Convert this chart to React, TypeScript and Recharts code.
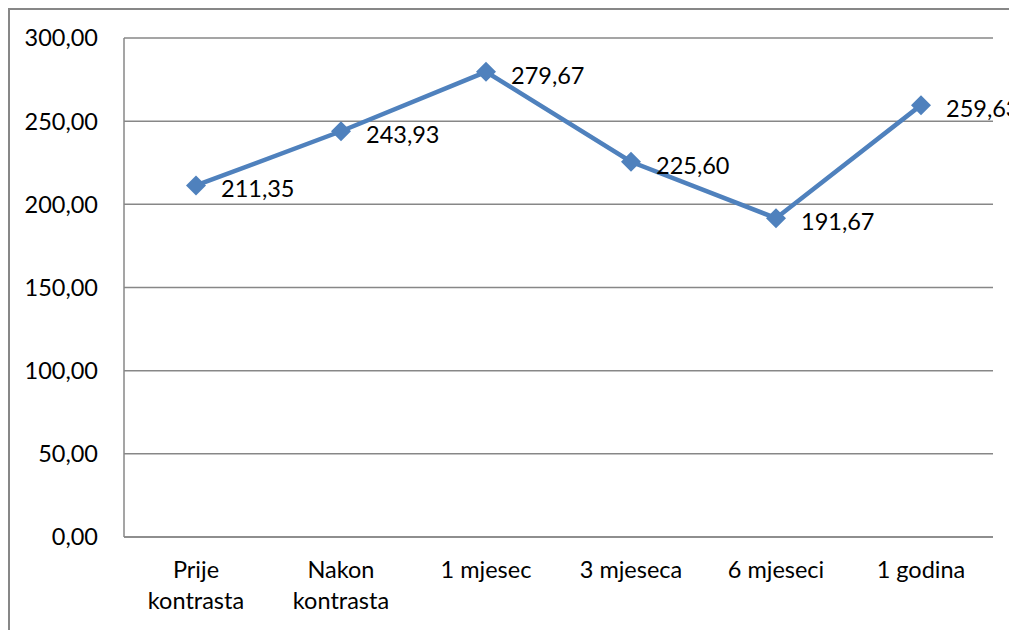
import { LineChart, Line, XAxis, YAxis, CartesianGrid, LabelList } from 'recharts';

const categories = ["Prije kontrasta", "Nakon kontrasta", "1 mjesec", "3 mjeseca", "6 mjeseci", "1 godina"]
const values = [211.35, 243.93, 279.67, 225.60, 191.67, 259.63]
const yTicks = [0, 50, 100, 150, 200, 250, 300]

const data = categories.map((name, i) => ({ name, value: values[i] }))

const FONT = "Lato, 'Open Sans', sans-serif"
const GRID = "#878787"
const BLUE = "#4F81BD"

const fmt = (v: number) => v.toFixed(2).replace('.', ',')

function Diamond({ cx, cy }: any) {
  if (cx == null || cy == null) return null
  const r = 10
  return (
    <path
      d={`M${cx},${cy - r} L${cx + r},${cy} L${cx},${cy + r} L${cx - r},${cy} Z`}
      fill={BLUE}
    />
  )
}

function CategoryTick({ x, y, payload }: any) {
  const words = String(payload.value).split(' ')
  // two-word labels longer than the band are wrapped like the original
  const lines = payload.value.length > 10 ? words : [payload.value]
  return (
    <text x={x} y={y} textAnchor="middle" fontFamily={FONT} fontSize={23.5} fill="#000">
      {lines.map((l: string, i: number) => (
        <tspan key={i} x={x} dy={i === 0 ? 33 : 31}>{l}</tspan>
      ))}
    </text>
  )
}

function ValueLabel({ x, y, value }: any) {
  return (
    <text x={x + 25} y={y + 3} dominantBaseline="central" fontFamily={FONT} fontSize={23.5} fill="#000">
      {fmt(Number(value))}
    </text>
  )
}

export default function App() {
  return (
    <div style={{ position: 'fixed', left: 0, top: 0, width: 1009, height: 630, overflow: 'hidden', background: '#fff' }}>
      <div style={{
        position: 'absolute', left: 8, top: 8,
        width: 1001, height: 622, boxSizing: 'border-box',
        borderLeft: `2px solid ${GRID}`, borderTop: `2px solid ${GRID}`,
        overflow: 'hidden'
      }}>
        <LineChart width={999} height={620} data={data} margin={{ top: 28, right: 16, left: 0, bottom: 0 }}>
          <CartesianGrid vertical={false} stroke={GRID} strokeWidth={1.5} />
          <XAxis
            dataKey="name"
            padding={{ left: 72, right: 72 }}
            height={93}
            axisLine={{ stroke: GRID, strokeWidth: 1.5 }}
            tickLine={false}
            interval={0}
            tick={<CategoryTick />}
          />
          <YAxis
            domain={[0, 300]}
            ticks={yTicks}
            width={114}
            axisLine={{ stroke: GRID, strokeWidth: 1.5 }}
            tickLine={false}
            tickMargin={20}
            tickFormatter={fmt}
            tick={{ fontFamily: FONT, fontSize: 23.5, fill: '#000' }}
          />
          <Line
            dataKey="value"
            stroke={BLUE}
            strokeWidth={4.5}
            dot={<Diamond />}
            activeDot={false}
            isAnimationActive={false}
          >
            <LabelList dataKey="value" content={<ValueLabel />} />
          </Line>
        </LineChart>
      </div>
    </div>
  )
}
